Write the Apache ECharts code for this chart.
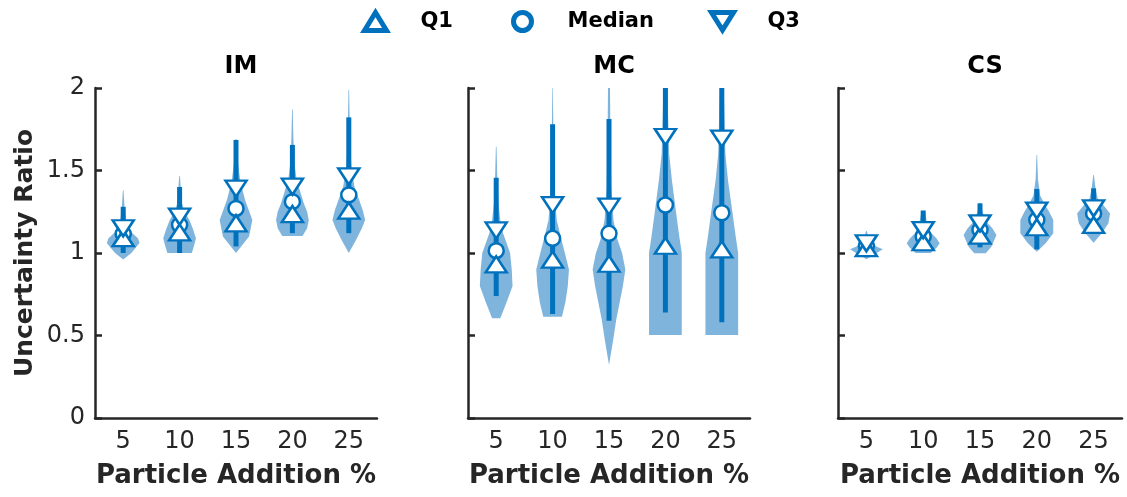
<!DOCTYPE html>
<html>
<head>
<meta charset="utf-8">
<script src="https://cdn.jsdelivr.net/npm/echarts@6/dist/echarts.min.js"></script>
<style>
  html, body { margin: 0; padding: 0; background: #fff; }
  #chart { width: 1127px; height: 497px; }
</style>
</head>
<body>
<div id="chart"></div>
<script>
// categories (particle addition %) and panel names
var categories = ["5", "10", "15", "20", "25"];
var panelNames = ["IM", "MC", "CS"];

// quartiles
var q1Im = [1.09, 1.125, 1.18, 1.236, 1.257];
var medIm = [1.115, 1.17, 1.27, 1.311, 1.352];
var q3Im = [1.15, 1.22, 1.39, 1.402, 1.464];
var q1Mc = [0.931, 0.96, 0.935, 1.044, 1.022];
var medMc = [1.014, 1.089, 1.119, 1.291, 1.244];
var q3Mc = [1.137, 1.29, 1.281, 1.703, 1.693];
var q1Cs = [1.03, 1.065, 1.105, 1.156, 1.17];
var medCs = [1.042, 1.10, 1.14, 1.2, 1.24];
var q3Cs = [1.059, 1.139, 1.18, 1.257, 1.271];

// thick whisker lines [low, high]
var whiskIm = [[1.0, 1.28], [1.0, 1.40], [1.04, 1.685], [1.12, 1.655], [1.12, 1.822]];
var whiskMc = [[0.739, 1.456], [0.63, 1.78], [0.59, 1.812], [0.64, 2.0], [0.58, 2.0]];
var whiskCs = [[0.99, 1.09], [1.012, 1.257], [1.034, 1.301], [1.022, 1.388], [1.119, 1.392]];

// violin outlines: [value, relative density] from bottom to top
var violinIm = [
  [[0.96, 0], [1.0, 0.5], [1.06, 1.0], [1.09, 0.9], [1.13, 0.45], [1.18, 0.2], [1.28, 0.08], [1.38, 0.02]],
  [[1.0, 0.75], [1.05, 0.9], [1.09, 1.0], [1.15, 0.8], [1.2, 0.6], [1.25, 0.3], [1.3, 0.15], [1.4, 0.07], [1.467, 0.02]],
  [[1.0, 0], [1.05, 0.4], [1.1, 0.8], [1.2, 1.0], [1.32, 0.56], [1.43, 0.27], [1.55, 0.12], [1.69, 0.05]],
  [[1.103, 0.62], [1.15, 0.9], [1.2, 1.0], [1.25, 0.9], [1.3, 0.7], [1.38, 0.45], [1.45, 0.25], [1.55, 0.12], [1.7, 0.06], [1.87, 0.02]],
  [[1.0, 0], [1.08, 0.45], [1.15, 0.8], [1.2, 1.0], [1.26, 0.85], [1.33, 0.6], [1.4, 0.35], [1.5, 0.18], [1.65, 0.08], [1.99, 0.02]]
];
var violinMc = [
  [[0.604, 0.25], [0.7, 0.63], [0.8, 1.0], [0.9, 0.95], [1.0, 0.85], [1.07, 0.6], [1.12, 0.42], [1.2, 0.25], [1.3, 0.14], [1.45, 0.07], [1.644, 0.02]],
  [[0.614, 0.57], [0.7, 0.78], [0.8, 0.93], [0.9, 1.0], [1.0, 0.75], [1.08, 0.54], [1.2, 0.25], [1.35, 0.14], [1.55, 0.08], [1.8, 0.04], [2.0, 0.015]],
  [[0.321, 0], [0.47, 0.25], [0.6, 0.45], [0.675, 0.6], [0.8, 0.85], [0.9, 1.0], [1.0, 0.8], [1.08, 0.52], [1.2, 0.27], [1.4, 0.14], [1.7, 0.09], [2.0, 0.06]],
  [[0.503, 1.0], [1.0, 1.0], [1.1, 0.85], [1.24, 0.66], [1.44, 0.4], [1.6, 0.23], [2.0, 0.12]],
  [[0.503, 1.0], [1.0, 1.0], [1.1, 0.85], [1.24, 0.66], [1.44, 0.38], [1.6, 0.22], [2.0, 0.12]]
];
var violinCs = [
  [[0.962, 0], [0.99, 0.45], [1.022, 1.0], [1.04, 0.6], [1.06, 0.35], [1.09, 0.15], [1.133, 0.02]],
  [[1.0, 0.45], [1.03, 0.8], [1.059, 1.0], [1.09, 0.8], [1.12, 0.5], [1.17, 0.25], [1.257, 0.1]],
  [[0.998, 0.35], [1.04, 0.7], [1.109, 1.0], [1.15, 0.75], [1.19, 0.4], [1.25, 0.15], [1.30, 0.08]],
  [[1.008, 0], [1.06, 0.55], [1.12, 1.0], [1.2, 1.0], [1.25, 0.75], [1.3, 0.45], [1.35, 0.2], [1.45, 0.07], [1.594, 0.02]],
  [[1.062, 0], [1.12, 0.5], [1.18, 0.9], [1.24, 1.0], [1.29, 0.6], [1.33, 0.25], [1.39, 0.12], [1.473, 0.02]]
];

var q1All = [q1Im, q1Mc, q1Cs];
var medAll = [medIm, medMc, medCs];
var q3All = [q3Im, q3Mc, q3Cs];
var whiskAll = [whiskIm, whiskMc, whiskCs];
var violinAll = [violinIm, violinMc, violinCs];

var blue = "#0072BD";
var lightBlue = "#7FB5DD";
var axisColor = "#262626";
var font = "DejaVu Sans";
var downTri = "path://M0,0L20,0L10,16Z";

var myChart = echarts.init(document.getElementById("chart"));

var gridLefts = [95, 468, 838];
var gridWidths = [282, 282, 284];

var grids = [], xAxes = [], yAxes = [], titles = [], series = [];

panelNames.forEach(function (name, p) {
  grids.push({ left: gridLefts[p], top: 88, width: gridWidths[p], height: 330 });
  titles.push({
    text: name,
    left: gridLefts[p] + gridWidths[p] / 2,
    top: 50,
    textAlign: "center",
    textStyle: { fontFamily: font, fontSize: 24, fontWeight: "bold", color: "#000" }
  });
  xAxes.push({
    type: "category",
    gridIndex: p,
    data: categories,
    boundaryGap: true,
    name: "Particle Addition %",
    nameLocation: "middle",
    nameGap: 45,
    nameTextStyle: { fontFamily: font, fontSize: 26, fontWeight: "bold", color: axisColor },
    axisLine: { lineStyle: { color: axisColor, width: 2.5 } },
    axisTick: { inside: true, alignWithLabel: true, length: 7, lineStyle: { color: axisColor, width: 2.5 } },
    axisLabel: { fontFamily: font, fontSize: 24, color: axisColor, margin: 12 },
    splitLine: { show: false }
  });
  yAxes.push({
    type: "value",
    gridIndex: p,
    min: 0,
    max: 2,
    interval: 0.5,
    name: p === 0 ? "Uncertainty Ratio" : "",
    nameLocation: "middle",
    nameGap: 57,
    nameTextStyle: { fontFamily: font, fontSize: 25, fontWeight: "bold", color: axisColor },
    axisLine: { show: true, lineStyle: { color: axisColor, width: 2.5 } },
    axisTick: { show: true, inside: true, length: 7, lineStyle: { color: axisColor, width: 2.5 } },
    axisLabel: { show: p === 0, fontFamily: font, fontSize: 24, color: axisColor, margin: 10 },
    splitLine: { show: false }
  });

  // violins
  series.push({
    type: "custom",
    xAxisIndex: p,
    yAxisIndex: p,
    silent: true,
    clip: true,
    z: 1,
    encode: { x: 0, y: 1 },
    data: categories.map(function (c, i) { return [i, violinAll[p][i][0][0]]; }),
    renderItem: function (params, api) {
      var i = api.value(0);
      var prof = violinAll[p][i];
      var half = api.size([1, 0])[0] * 0.29;
      var left = [], right = [];
      prof.forEach(function (pt) {
        var c = api.coord([i, pt[0]]);
        left.push([c[0] - pt[1] * half, c[1]]);
        right.unshift([c[0] + pt[1] * half, c[1]]);
      });
      return { type: "polygon", shape: { points: left.concat(right) }, style: { fill: lightBlue } };
    }
  });

  // thick whisker lines
  series.push({
    type: "custom",
    xAxisIndex: p,
    yAxisIndex: p,
    silent: true,
    clip: true,
    z: 2,
    encode: { x: 0, y: [1, 2] },
    data: whiskAll[p].map(function (w, i) { return [i, w[0], w[1]]; }),
    renderItem: function (params, api) {
      var i = api.value(0);
      var a = api.coord([i, api.value(1)]);
      var b = api.coord([i, api.value(2)]);
      return { type: "line", shape: { x1: a[0], y1: a[1], x2: b[0], y2: b[1] }, style: { stroke: blue, lineWidth: 5 } };
    }
  });

  var markerStyle = { color: "#fff", borderColor: blue, borderWidth: 2.5, opacity: 1 };
  series.push({
    name: "Median", type: "scatter", xAxisIndex: p, yAxisIndex: p, z: 3,
    symbol: "circle", symbolSize: 15, itemStyle: markerStyle,
    data: medAll[p].map(function (v, i) { return [i, v]; })
  });
  series.push({
    name: "Q1", type: "scatter", xAxisIndex: p, yAxisIndex: p, z: 4,
    symbol: "triangle", symbolSize: [21, 16], itemStyle: markerStyle,
    data: q1All[p].map(function (v, i) { return [i, v]; })
  });
  series.push({
    name: "Q3", type: "scatter", xAxisIndex: p, yAxisIndex: p, z: 5,
    symbol: downTri, symbolSize: [21, 16], itemStyle: markerStyle,
    data: q3All[p].map(function (v, i) { return [i, v]; })
  });
});

function legendAt(x, name, icon) {
  return {
    left: x,
    top: 5,
    itemWidth: 22,
    itemHeight: 18,
    icon: icon,
    itemStyle: { borderWidth: 5 },
    textStyle: { fontFamily: font, fontSize: 21, fontWeight: "bold", color: "#000", padding: [0, 0, 0, 29] },
    data: [name]
  };
}

var option = {
  animation: false,
  backgroundColor: "#fff",
  title: titles,
  legend: [
    legendAt(357, "Q1", "triangle"),
    legendAt(506, "Median", "circle"),
    legendAt(704, "Q3", downTri)
  ],
  grid: grids,
  xAxis: xAxes,
  yAxis: yAxes,
  series: series
};

myChart.setOption(option);
window.addEventListener("resize", function () {
  myChart.resize();
});
</script>
</body>
</html>
